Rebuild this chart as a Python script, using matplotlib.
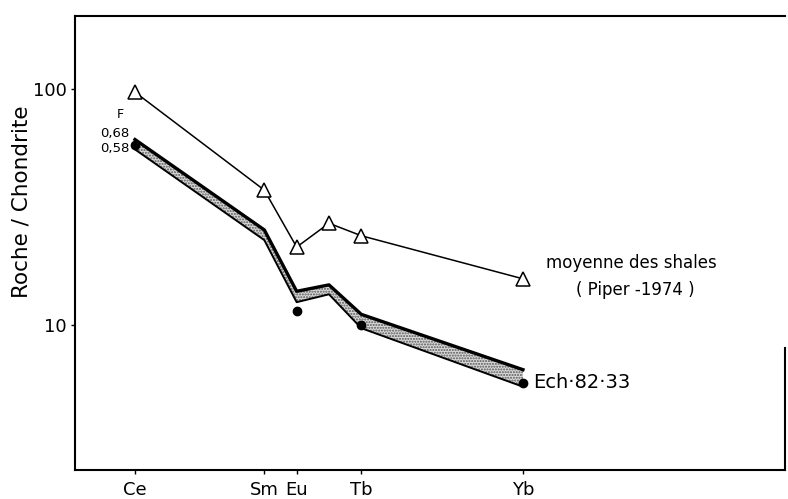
import matplotlib
matplotlib.use("Agg")
import matplotlib.pyplot as plt
import numpy as np

# Rare-earth elements (positioned by atomic number)
tick_elements = ["Ce", "Sm", "Eu", "Tb", "Yb"]
tick_z = [58, 62, 63, 65, 70]

# Average shale (Piper 1974), chondrite-normalised
shale_z = [58, 62, 63, 64, 65, 70]
shale_vals = [97, 37.3, 21.4, 27.0, 23.9, 15.7]

# Computed envelope for sample Ech. 82.33 at two F values
band_z = [58, 62, 63, 64, 65, 70]
band_f068 = [61.1, 25.3, 13.9, 14.8, 11.1, 6.47]
band_f058 = [55.5, 22.9, 12.5, 13.5, 9.7, 5.48]

# Measured sample values
sample_z = [58, 63, 65, 70]
sample_vals = [57.7, 11.5, 10.0, 5.7]

fig = plt.figure(figsize=(7.88, 4.99), dpi=100)
ax = fig.add_axes([0.095, 0.058, 0.901, 0.910])
ax.set_yscale("log")
ax.set_xlim(56.14, 78.1)
ax.set_ylim(2.43, 204)

# Shale curve
ax.plot(shale_z, shale_vals, color="black", lw=1.1, marker="^", ms=9.5,
        mfc="white", mec="black", mew=1.1, zorder=3)

# Shaded envelope between the two F curves
ax.fill_between(band_z, band_f058, band_f068, facecolor="#d9d9d9",
                edgecolor="#555555", hatch="......", lw=0, zorder=2)
ax.plot(band_z, band_f068, color="black", lw=2.4, solid_joinstyle="round", zorder=3)
ax.plot(band_z, band_f058, color="black", lw=1.4, solid_joinstyle="round", zorder=3)

# Sample points
ax.plot(sample_z, sample_vals, ls="none", marker="o", ms=6, color="black", zorder=4)

# Labels
ax.text(57.55, 78, "F", fontsize=9, ha="center", va="center")
ax.text(57.82, 64.5, "0,68", fontsize=9.5, ha="right", va="center")
ax.text(57.82, 56.0, "0,58", fontsize=9.5, ha="right", va="center")
ax.text(73.34, 18.3, "moyenne des shales", fontsize=12, ha="center", va="center")
ax.text(73.46, 14.1, "( Piper -1974 )", fontsize=12, ha="center", va="center")
ax.text(70.3, 5.7, "Ech·82·33", fontsize=14, ha="left", va="center")

ax.set_ylabel("Roche / Chondrite", fontsize=15.5, va="center")
ax.yaxis.set_label_coords(-0.075, 0.59)

ax.set_xticks(tick_z)
ax.set_xticklabels(tick_elements, fontsize=13)
ax.set_yticks([10, 100])
ax.set_yticklabels(["10", "100"], fontsize=13)
ax.yaxis.set_minor_locator(matplotlib.ticker.NullLocator())
ax.tick_params(axis="both", direction="out", length=3, width=1, pad=3)
ax.tick_params(axis="x", pad=5)

for side in ["left", "top", "bottom", "right"]:
    ax.spines[side].set_linewidth(1.5)
ax.spines["right"].set_bounds(2.43, 8.0)

fig.savefig("out.png", dpi=100)
